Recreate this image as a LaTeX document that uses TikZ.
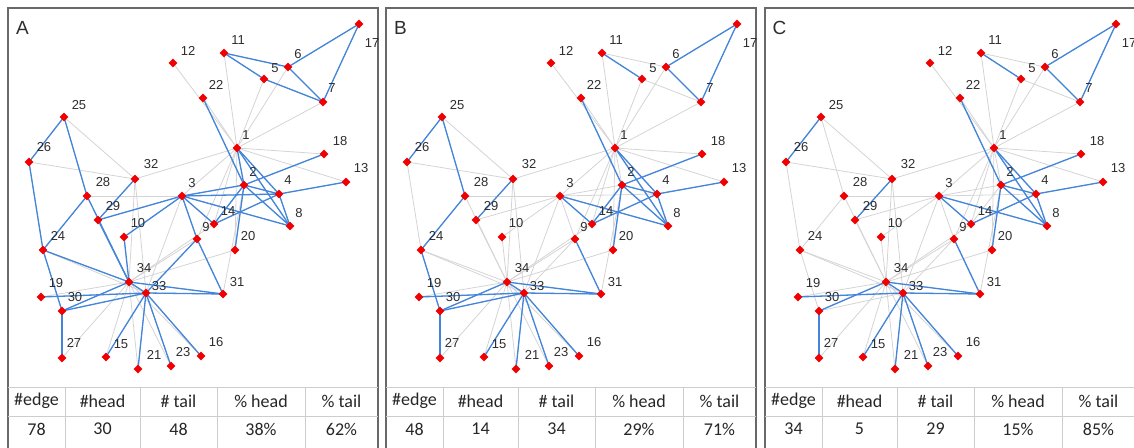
\documentclass[tikz,border=0pt]{standalone}
\usepackage{fontspec}
\setmainfont{Liberation Sans}
\newfontfamily\tabfont{Carlito}
\usetikzlibrary{shapes.geometric}
\definecolor{edgeblue}{RGB}{66,133,218}
\definecolor{edgegray}{RGB}{212,212,212}
\definecolor{nodered}{RGB}{240,0,0}
\definecolor{framegray}{RGB}{105,105,105}
\definecolor{tabline}{RGB}{205,205,205}
\definecolor{txt}{RGB}{45,45,45}
\tikzset{
  grayedge/.style={draw=edgegray, line width=0.8pt},
  blueedge/.style={draw=edgeblue, line width=1.3pt},
  dnode/.style={diamond, fill=nodered, inner sep=0pt, minimum size=9pt},
  lbl/.style={font=\fontsize{13}{13}\selectfont, text=txt, inner sep=0pt},
  panelframe/.style={draw=framegray, line width=1.3pt},
  tabrule/.style={draw=tabline, line width=0.8pt},
  tabtxt/.style={font=\tabfont\fontsize{18}{18}\selectfont, text=black!85, inner sep=0pt},
  letter/.style={font=\fontsize{19}{19}\selectfont, text=txt, inner sep=0pt}
}
\def\nodelist{1/237/148/9/13, 2/244/185/9/13, 3/182/196/10/13, 4/279/194/9/14,
 5/264/79/11/11, 6/288/67/10/13, 7/323/102/9/14, 8/290/226/9/13, 9/197/239/9/12,
 10/124/237/14/14, 11/224/53/14/13, 12/173/63/15/12, 13/346/182/15/14,
 14/214/224/14/13, 15/106/357/15/13, 16/201/356/15/14, 17/359/24/13/-19,
 18/324/154/16/13, 19/41/297/15/14, 20/235/250/13/14, 21/138/369/16/14,
 22/203/98/13/13, 23/171/366/12/14, 24/43/250/15/14, 25/64/117/15/12,
 26/29/162/15/15, 27/62/358/12/15, 28/87/196/16/14, 29/98/220/15/14,
 30/62/311/13/14, 31/223/294/14/12, 32/135/179/16/15, 33/146/293/13/7,
 34/129/282/15/14}
\def\alledges{1/2,1/3,1/4,1/5,1/6,1/7,1/8,1/9,1/11,1/12,1/13,1/14,1/18,1/20,1/22,1/32,
 2/3,2/4,2/8,2/14,2/18,2/20,2/22,2/31,3/4,3/8,3/9,3/10,3/14,3/28,3/29,3/33,4/8,4/13,4/14,
 5/7,5/11,6/7,6/11,6/17,7/17,9/31,9/33,9/34,10/34,14/34,15/33,15/34,16/33,16/34,19/33,19/34,
 20/34,21/33,21/34,23/33,23/34,24/26,24/28,24/30,24/33,24/34,25/26,25/28,25/32,26/32,27/30,
 27/34,28/34,29/32,29/34,30/33,30/34,31/33,31/34,32/33,32/34,33/34}
\def\blueA{5/11,6/11,5/7,6/7,6/17,7/17,2/22,1/2,1/4,1/8,2/18,4/13,2/4,2/8,2/20,2/3,3/4,3/8,
 3/14,3/9,3/29,3/10,4/14,4/8,9/31,9/33,25/26,25/28,24/26,24/28,29/32,29/34,28/34,10/34,24/34,
 24/30,19/33,30/33,30/34,27/30,15/33,21/33,23/33,16/33,31/33,31/34,33/34,2/14}
\def\blueB{6/17,7/17,6/7,5/11,2/22,1/4,1/8,2/18,4/13,2/4,2/8,2/20,2/14,3/14,3/8,4/14,4/8,9/31,
 25/26,25/28,24/28,29/32,24/30,19/33,30/33,30/34,27/30,15/33,21/33,23/33,16/33,31/33,31/34,33/34}
\def\blueC{6/17,7/17,6/7,5/11,2/22,1/4,1/8,2/18,4/13,2/4,2/8,2/20,3/14,3/8,4/14,4/8,9/31,
 25/26,29/32,19/33,30/34,27/30,15/33,21/33,23/33,16/33,31/33,31/34,33/34}
\newcommand\drawpanel[9]{%
  \begin{scope}[xshift=#2pt]
    \foreach \n/\x/\y/\dx/\dy in \nodelist {\coordinate (#1\n) at (\x,\y);}
    \draw[panelframe] (8,8) -- (378,8) -- (378,452) -- (8,452) -- cycle;
    \node[letter] (#1letter) at (22.5,28) {#1};
    \draw[tabrule] (8,387) -- (378,387);
    \draw[tabrule] (8,416) -- (378,416);
    \foreach \cx in {65,140,217,305} {\draw[tabrule] (\cx,387) -- (\cx,452);}
    \node[tabtxt] (#1h1) at (36.5,401) {\#edge};
    \node[tabtxt] (#1h2) at (102.5,401) {\#head};
    \node[tabtxt] (#1h3) at (178.5,401) {\# tail};
    \node[tabtxt] (#1h4) at (261,401) {\% head};
    \node[tabtxt] (#1h5) at (341.5,401) {\% tail};
    \node[tabtxt] (#1v1) at (36.5,429) {#5};
    \node[tabtxt] (#1v2) at (102.5,429) {#6};
    \node[tabtxt] (#1v3) at (178.5,429) {#7};
    \node[tabtxt] (#1v4) at (261,429) {#8\%};
    \node[tabtxt] (#1v5) at (341.5,429) {#9\%};
  \end{scope}
  \foreach \a/\b in \alledges {\draw[grayedge] (#1\a) -- (#1\b);}
  \foreach \a/\b in #3 {\draw[blueedge] (#1\a) -- (#1\b);}
  \foreach \n/\x/\y/\dx/\dy in \nodelist {
    \node[dnode] (#1n\n) at (#1\n) {};
    \node[lbl] (#1l\n) at ([xshift=\dx pt,yshift=\dy pt]#1\n) {\n};
  }
}
\begin{document}
\begin{tikzpicture}[x=1pt,y=-1pt]
\useasboundingbox (0,0) rectangle (1134,447);
\drawpanel{A}{0}{\blueA}{}{78}{30}{48}{38}{62}
\drawpanel{B}{378}{\blueB}{}{48}{14}{34}{29}{71}
\drawpanel{C}{757}{\blueC}{}{34}{5}{29}{15}{85}
\end{tikzpicture}
\end{document}
